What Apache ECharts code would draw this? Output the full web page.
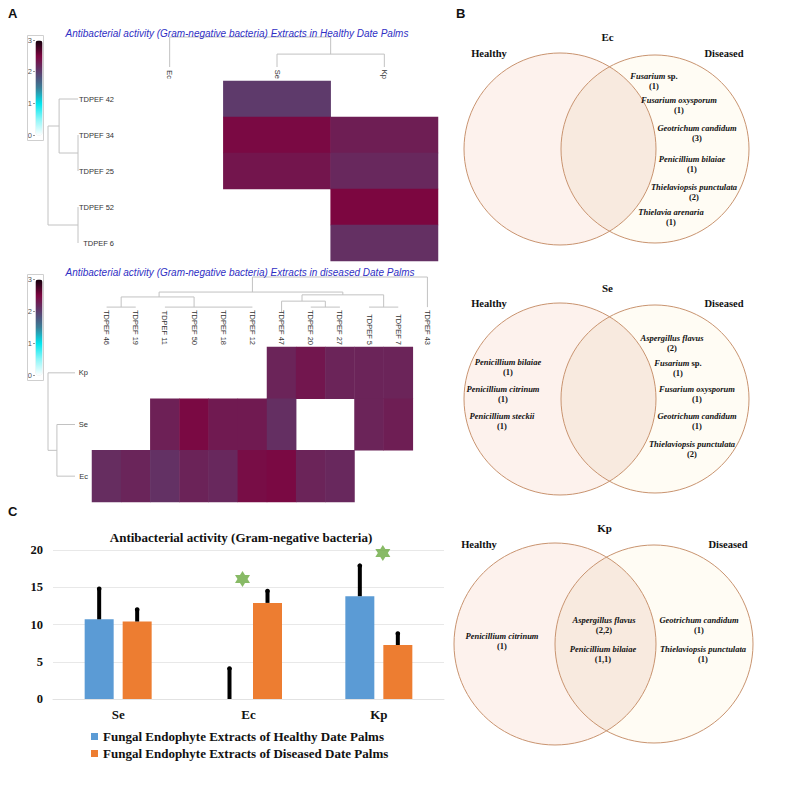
<!DOCTYPE html>
<html><head><meta charset="utf-8">
<script src="https://cdn.jsdelivr.net/npm/echarts@6/dist/echarts.min.js"></script>
<style>html,body{margin:0;padding:0;background:#fff}#c{width:787px;height:787px}</style>
</head><body><div id="c"></div>
<script>
// ---------- DATA ----------
// Heatmap A (healthy)
const healthyBacteria = ['Ec', 'Se', 'Kp'];
const healthyExtracts = ['TDPEF 42', 'TDPEF 34', 'TDPEF 25', 'TDPEF 52', 'TDPEF 6'];
// [bacteriaIndex, extractIndex, activity]
const healthyCells = [[1,0,2.03],[1,1,2.47],[2,1,2.28],[1,2,2.36],[2,2,2.19],[2,3,2.5],[2,4,2.12]];
// Heatmap A (diseased)
const diseasedExtracts = ['TDPEF 46','TDPEF 19','TDPEF 11','TDPEF 50','TDPEF 18','TDPEF 12','TDPEF 47','TDPEF 20','TDPEF 27','TDPEF 5','TDPEF 7','TDPEF 43'];
const diseasedBacteria = ['Kp', 'Se', 'Ec'];
// [extractIndex, bacteriaIndex, activity]
const diseasedCells = [
  [6,0,2.23],[7,0,2.35],[8,0,2.23],[9,0,2.23],[10,0,2.23],
  [2,1,2.26],[3,1,2.47],[4,1,2.32],[5,1,2.32],[6,1,2.13],[9,1,2.23],[10,1,2.28],
  [0,2,2.15],[1,2,2.22],[2,2,2.11],[3,2,2.24],[4,2,2.19],[5,2,2.44],[6,2,2.47],[7,2,2.23],[8,2,2.19]
];
const colorTicks = [0, 1, 2, 3];
// Dendrogram segments [pos1, height1, pos2, height2]
const healthyColTree = [[0,0,0,1],[1,0,1,0.43],[2,0,2,0.43],[1,0.43,2,0.43],[1.5,0.43,1.5,1],[0,1,1.5,1]];
// [height1, row1, height2, row2]
const healthyRowTree = [[0,0,0.63,0],[0,1,0,2],[0,1.5,0.63,1.5],[0.63,0,0.63,1.5],[0.63,0.75,1,0.75],[0,3,0,4],[0,3.5,1,3.5],[1,0.75,1,3.5]];
const diseasedColTree = [
  [0,0.14,1,0.14],[0.5,0.14,0.5,0.43],[2,0.14,5,0.14],[3,0.14,3,0.43],[0.5,0.43,3,0.43],
  [1.8,0.43,1.8,0.57],[1.8,0.57,8.1,0.57],[8.1,0.57,8.1,0.49],[6.7,0.49,9.5,0.49],
  [9.5,0.49,9.5,0.14],[9,0.14,10,0.14],[6.7,0.49,6.7,0.31],[6,0.31,7.5,0.31],[6,0.31,6,0],
  [7.5,0.31,7.5,0.14],[7,0.14,8,0.14],[5,0.57,5,1],[5,1,11,1],[11,1,11,0.14]
];
const diseasedRowTree = [[0,0,1,0],[0,1,0.67,1],[0,2,0.67,2],[0.67,1,0.67,2],[0.67,1.5,1,1.5],[1,0,1,1.5]];

// Bar chart C
const barCategories = ['Se', 'Ec', 'Kp'];
const healthyMean = [10.7, 0, 13.8];
const healthyErr = [4.3, 4.3, 4.3];
const diseasedMean = [10.4, 12.9, 7.25];
const diseasedErr = [1.8, 1.8, 1.75];
const starPoints = [[1, 16.1], [2, 19.6]];
const barTicks = [0, 5, 10, 15, 20];
const healthyName = 'Fungal Endophyte Extracts of Healthy Date Palms';
const diseasedName = 'Fungal Endophyte Extracts of Diseased Date Palms';

// Venn B: [species, count]
const ecHealthy = [];
const ecDiseased = [['Fusarium sp.','1'],['Fusarium oxysporum','1'],['Geotrichum candidum','3'],['Penicillium bilaiae','1'],['Thielaviopsis punctulata','2'],['Thielavia arenaria','1']];
const seHealthy = [['Penicillium bilaiae','1'],['Penicillium citrinum','1'],['Penicillium steckii','1']];
const seDiseased = [['Aspergillus flavus','2'],['Fusarium sp.','1'],['Fusarium oxysporum','1'],['Geotrichum candidum','1'],['Thielaviopsis punctulata','2']];
const kpHealthy = [['Penicillium citrinum','1']];
const kpShared = [['Aspergillus flavus','2,2'],['Penicillium bilaiae','1,1']];
const kpDiseased = [['Geotrichum candidum','1'],['Thielaviopsis punctulata','1']];

// ---------- LAYOUT / STYLE ----------
const SANS = 'Liberation Sans', SERIF = 'Liberation Serif';
const ecDiseasedPos = [[654,81],[679,105],[697,133],[692,164],[694,192],[671,217]];
const seHealthyPos = [[508,367],[503,394],[502,421]];
const seDiseasedPos = [[672,343],[678,368],[697,394],[697,421],[692,449]];
const kpHealthyPos = [[502,641]];
const kpSharedPos = [[604,625],[603,654]];
const kpDiseasedPos = [[699,625],[703,654]];
const vennCircles = [
  {l:[560,149,96], r:[655,149,94], title:'Ec', ty:37, hy:53},
  {l:[560,399,96], r:[655,399,94], title:'Se', ty:288, hy:303},
  {l:[555,644,101], r:[654,644,99], title:'Kp', ty:528, hy:544}
];
const BAR_W = 29, BAR_GAP = 9;
const heatColors = ['#ffffff','#8ff6f8','#00e6ee','#3a7f98','#5c3d6e','#7c0640','#14000c'];

// ---------- CHART ----------
const chart = echarts.init(document.getElementById('c'), null, {renderer:'svg', width:787, height:787});

function segItem(params, api) {
  const a = api.coord([api.value(0), api.value(1)]);
  const b = api.coord([api.value(2), api.value(3)]);
  return {type:'line', shape:{x1:a[0], y1:a[1], x2:b[0], y2:b[1]}, style:{stroke:'#c2c2c2', lineWidth:1}};
}
function errItem(sign) {
  return function (params, api) {
    const c = api.value(0), m = api.value(1), e = api.value(2);
    const off = sign * (BAR_W + BAR_GAP) / 2;
    const p0 = api.coord([c, m]), p1 = api.coord([c, m + e]);
    const x = p0[0] + off;
    return {type:'group', children:[
      {type:'line', shape:{x1:x, y1:p0[1], x2:x, y2:p1[1]+1}, style:{stroke:'#000', lineWidth:4}},
      {type:'circle', shape:{cx:x, cy:p1[1]+1.5, r:2.3}, style:{fill:'#000'}}
    ]};
  };
}
function speciesText(name, count) {
  let main = name.endsWith(' sp.') ? '{i|' + name.slice(0, -4) + '}{n| sp.}' : '{i|' + name + '}';
  return main + '\n{n|(' + count + ')}';
}
const vRich = {
  i:{fontStyle:'italic', fontWeight:'bold', fontSize:8.5, fontFamily:SERIF, fill:'#111', lineHeight:10},
  n:{fontWeight:'bold', fontSize:8.5, fontFamily:SERIF, fill:'#111', lineHeight:10}
};
// overlap region of two circles as a polygon outline
function lensPoints(l, r) {
  const d = r[0] - l[0];
  const a = (d * d + l[2] * l[2] - r[2] * r[2]) / (2 * d);
  const h = Math.sqrt(l[2] * l[2] - a * a);
  const t1 = Math.atan2(h, a), t2 = Math.atan2(h, d - a);
  const pts = [], N = 60;
  for (let k = 0; k <= N; k++) {
    const t = -t1 + 2 * t1 * k / N;
    pts.push([l[0] + l[2] * Math.cos(t), l[1] + l[2] * Math.sin(t)]);
  }
  for (let k = 0; k <= N; k++) {
    const t = Math.PI - t2 + 2 * t2 * k / N;
    pts.push([r[0] + r[2] * Math.cos(t), r[1] + r[2] * Math.sin(t)]);
  }
  return pts;
}

const graphics = [];
vennCircles.forEach(v => {
  graphics.push({type:'circle', silent:true, shape:{cx:v.l[0], cy:v.l[1], r:v.l[2]}, style:{fill:'#fdf2ed', stroke:'none'}});
  graphics.push({type:'circle', silent:true, shape:{cx:v.r[0], cy:v.r[1], r:v.r[2]}, style:{fill:'#fffcf4', stroke:'none'}});
  graphics.push({type:'polygon', silent:true, shape:{points:lensPoints(v.l, v.r)}, style:{fill:'#f8eadf', stroke:'none'}});
  graphics.push({type:'circle', silent:true, shape:{cx:v.l[0], cy:v.l[1], r:v.l[2]}, style:{fill:'none', stroke:'#c99470', lineWidth:1}});
  graphics.push({type:'circle', silent:true, shape:{cx:v.r[0], cy:v.r[1], r:v.r[2]}, style:{fill:'none', stroke:'#c99470', lineWidth:1}});
  graphics.push({type:'text', silent:true, style:{text:v.title, x:(v.l[0]+v.r[0])/2, y:v.ty, align:'center', verticalAlign:'middle', font:'bold 11px "Liberation Serif"', fill:'#111'}});
  graphics.push({type:'text', silent:true, style:{text:'Healthy', x:v.l[0]-v.l[2]+25, y:v.hy, align:'center', verticalAlign:'middle', font:'bold 10.5px "Liberation Serif"', fill:'#111'}});
  graphics.push({type:'text', silent:true, style:{text:'Diseased', x:v.r[0]+v.r[2]-25, y:v.hy, align:'center', verticalAlign:'middle', font:'bold 10.5px "Liberation Serif"', fill:'#111'}});
});
function addSpecies(list, pos) {
  list.forEach((s, k) => {
    graphics.push({type:'text', silent:true, style:{text:speciesText(s[0], s[1]), x:pos[k][0], y:pos[k][1], align:'center', verticalAlign:'middle', rich:vRich}});
  });
}
addSpecies(ecHealthy, []);
addSpecies(ecDiseased, ecDiseasedPos);
addSpecies(seHealthy, seHealthyPos);
addSpecies(seDiseased, seDiseasedPos);
addSpecies(kpHealthy, kpHealthyPos);
addSpecies(kpShared, kpSharedPos);
addSpecies(kpDiseased, kpDiseasedPos);

const hiddenVal = (min, max, inv) => ({type:'value', min, max, inverse:!!inv, show:false});
const heatLabel = {fontSize:7.5, color:'#333', fontFamily:SANS};

const option = {
  backgroundColor:'#fff',
  animation:false,
  title:[
    {text:'A', left:3, top:2, textStyle:{fontSize:13, fontWeight:'bold', fontFamily:SANS, color:'#111'}},
    {text:'B', left:451, top:2, textStyle:{fontSize:13, fontWeight:'bold', fontFamily:SANS, color:'#111'}},
    {text:'C', left:3, top:500, textStyle:{fontSize:13, fontWeight:'bold', fontFamily:SANS, color:'#111'}},
    {text:'Antibacterial activity (Gram-negative bacteria) Extracts in Healthy Date Palms', left:232, top:23, textAlign:'center',
      textStyle:{fontSize:10, fontStyle:'italic', fontWeight:'normal', fontFamily:SANS, color:'#2f2fc4'}},
    {text:'Antibacterial activity (Gram-negative bacteria) Extracts in diseased Date Palms', left:235, top:262, textAlign:'center',
      textStyle:{fontSize:10, fontStyle:'italic', fontWeight:'normal', fontFamily:SANS, color:'#2f2fc4'}},
    {text:'Antibacterial activity (Gram-negative bacteria)', left:236, top:526, textAlign:'center',
      textStyle:{fontSize:13, fontWeight:'bold', fontFamily:SERIF, color:'#111'}}
  ],
  grid:[
    {left:116, top:81, width:322, height:180},   // 0 heat healthy
    {left:116, top:37, width:322, height:30},    // 1 col tree healthy
    {left:48, top:81, width:30, height:180},     // 2 row tree healthy
    {left:92, top:347, width:350, height:155},   // 3 heat diseased
    {left:92, top:277, width:350, height:35},    // 4 col tree diseased
    {left:48, top:347, width:27, height:155},    // 5 row tree diseased
    {left:53, top:550, width:391, height:149},   // 6 bar
    {left:35, top:40, width:7, height:95},       // 7 colour scale axis
    {left:35, top:279, width:7, height:96}       // 8 colour scale axis
  ],
  xAxis:[
    {gridIndex:0, type:'category', data:healthyBacteria, position:'top', axisLine:{show:false}, axisTick:{show:false},
      axisLabel:Object.assign({rotate:90, margin:2}, heatLabel), splitLine:{show:false}},
    Object.assign({gridIndex:1}, hiddenVal(-0.5, 2.5)),
    Object.assign({gridIndex:2}, hiddenVal(0, 1, true)),
    {gridIndex:3, type:'category', data:diseasedExtracts, position:'top', axisLine:{show:false}, axisTick:{show:false},
      axisLabel:Object.assign({rotate:90, margin:2, interval:0}, heatLabel), splitLine:{show:false}},
    Object.assign({gridIndex:4}, hiddenVal(-0.5, 11.5)),
    Object.assign({gridIndex:5}, hiddenVal(0, 1, true)),
    {gridIndex:6, type:'category', data:barCategories, axisLine:{lineStyle:{color:'#e2e2e2'}}, axisTick:{show:false},
      axisLabel:{fontSize:13, fontWeight:'bold', fontFamily:SERIF, color:'#111', margin:9}},
    Object.assign({gridIndex:7}, hiddenVal(0, 1)),
    Object.assign({gridIndex:8}, hiddenVal(0, 1))
  ],
  yAxis:[
    {gridIndex:0, type:'category', data:healthyExtracts, inverse:true, axisLine:{show:false}, axisTick:{show:false},
      axisLabel:Object.assign({margin:2}, heatLabel), splitLine:{show:false}},
    Object.assign({gridIndex:1}, hiddenVal(0, 1)),
    Object.assign({gridIndex:2}, hiddenVal(-0.5, 4.5, true)),
    {gridIndex:3, type:'category', data:diseasedBacteria, inverse:true, axisLine:{show:false}, axisTick:{show:false},
      axisLabel:Object.assign({margin:4}, heatLabel), splitLine:{show:false}},
    Object.assign({gridIndex:4}, hiddenVal(0, 1)),
    Object.assign({gridIndex:5}, hiddenVal(-0.5, 2.5, true)),
    {gridIndex:6, type:'value', min:barTicks[0], max:barTicks[barTicks.length-1], interval:barTicks[1]-barTicks[0],
      axisLine:{show:false}, axisTick:{show:false}, splitLine:{lineStyle:{color:'#e8e8e8'}},
      axisLabel:{fontSize:12.5, fontWeight:'bold', fontFamily:SERIF, color:'#111', margin:10}},
    {gridIndex:7, type:'value', min:colorTicks[0], max:colorTicks[colorTicks.length-1], interval:1, axisLine:{show:false},
      axisTick:{show:true, length:2, lineStyle:{color:'#999'}}, splitLine:{show:false},
      axisLabel:{fontSize:7.5, color:'#555', fontFamily:SANS, margin:3}},
    {gridIndex:8, type:'value', min:colorTicks[0], max:colorTicks[colorTicks.length-1], interval:1, axisLine:{show:false},
      axisTick:{show:true, length:2, lineStyle:{color:'#999'}}, splitLine:{show:false},
      axisLabel:{fontSize:7.5, color:'#555', fontFamily:SANS, margin:3}}
  ],
  visualMap:[
    {type:'continuous', seriesIndex:0, min:0, max:3, calculable:false, left:27, top:35, itemWidth:7, itemHeight:95,
      padding:[5,1,5,8], borderColor:'#cfcfcf', borderWidth:1, text:null, showLabel:false, inRange:{color:heatColors}, hoverLink:false},
    {type:'continuous', seriesIndex:1, min:0, max:3, calculable:false, left:27, top:274, itemWidth:7, itemHeight:96,
      padding:[5,1,5,8], borderColor:'#cfcfcf', borderWidth:1, text:null, showLabel:false, inRange:{color:heatColors}, hoverLink:false}
  ],
  legend:{data:[healthyName, diseasedName], orient:'vertical', left:86, top:725, itemWidth:7, itemHeight:7, itemGap:4,
    icon:'rect', textStyle:{fontSize:13, fontWeight:'bold', fontFamily:SERIF, color:'#111'}},
  series:[
    {type:'heatmap', xAxisIndex:0, yAxisIndex:0, data:healthyCells, emphasis:{disabled:true}},
    {type:'heatmap', xAxisIndex:3, yAxisIndex:3, data:diseasedCells, emphasis:{disabled:true}},
    {type:'custom', xAxisIndex:1, yAxisIndex:1, renderItem:segItem, data:healthyColTree, encode:{x:[0,2], y:[1,3]}, silent:true},
    {type:'custom', xAxisIndex:2, yAxisIndex:2, renderItem:segItem, data:healthyRowTree, encode:{x:[0,2], y:[1,3]}, silent:true},
    {type:'custom', xAxisIndex:4, yAxisIndex:4, renderItem:segItem, data:diseasedColTree, encode:{x:[0,2], y:[1,3]}, silent:true},
    {type:'custom', xAxisIndex:5, yAxisIndex:5, renderItem:segItem, data:diseasedRowTree, encode:{x:[0,2], y:[1,3]}, silent:true},
    {type:'bar', name:healthyName, xAxisIndex:6, yAxisIndex:6, data:healthyMean, barWidth:BAR_W, barGap:(BAR_GAP/BAR_W*100)+'%', itemStyle:{color:'#5b9bd5'}},
    {type:'bar', name:diseasedName, xAxisIndex:6, yAxisIndex:6, data:diseasedMean, barWidth:BAR_W, barGap:(BAR_GAP/BAR_W*100)+'%', itemStyle:{color:'#ed7d31'}},
    {type:'custom', xAxisIndex:6, yAxisIndex:6, renderItem:errItem(-1), z:5, silent:true,
      data:healthyMean.map((m, i) => [i, m, healthyErr[i]]), encode:{x:0, y:1}},
    {type:'custom', xAxisIndex:6, yAxisIndex:6, renderItem:errItem(1), z:5, silent:true,
      data:diseasedMean.map((m, i) => [i, m, diseasedErr[i]]), encode:{x:0, y:1}},
    {type:'scatter', xAxisIndex:6, yAxisIndex:6, z:6, silent:true,
      symbol:'path://M0,-10L2.887,-5L8.66,-5L5.774,0L8.66,5L2.887,5L0,10L-2.887,5L-8.66,5L-5.774,0L-8.66,-5L-2.887,-5Z',
      symbolSize:[15,16], itemStyle:{color:'#6aa940'},
      data:[{value:starPoints[0], symbolOffset:[-6,0]}, {value:starPoints[1], symbolOffset:[4,0]}]},
    {type:'line', xAxisIndex:7, yAxisIndex:7, data:[], silent:true},
    {type:'line', xAxisIndex:8, yAxisIndex:8, data:[], silent:true}
  ],
  graphic:graphics
};
chart.setOption(option);
</script></body></html>
